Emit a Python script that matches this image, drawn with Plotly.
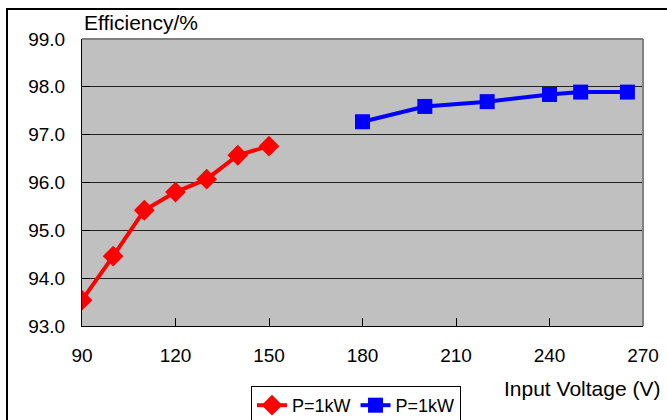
import plotly.graph_objects as go

# Input voltage (V) and efficiency (%) for the two operating ranges
low_voltage = [90, 100, 110, 120, 130, 140, 150]
low_efficiency = [93.54, 94.46, 95.42, 95.80, 96.07, 96.57, 96.76]

high_voltage = [180, 200, 220, 240, 250, 265]
high_efficiency = [97.27, 97.59, 97.69, 97.84, 97.89, 97.89]

series_names = ["P=1kW", "P=1kW"]
x_ticks = [90, 120, 150, 180, 210, 240, 270]
y_ticks = [93, 94, 95, 96, 97, 98, 99]

W, H = 667, 420
ML, MR, MT, MB = 82, 24, 39, 94
PW, PH = W - ML - MR, H - MT - MB

def px_x(p):
    return (p - ML) / PW

def px_y(p):
    return (H - MB - p) / PH

font = "Liberation Sans, Arial, sans-serif"

fig = go.Figure()
fig.add_trace(go.Scatter(
    x=low_voltage, y=low_efficiency, name=series_names[0],
    mode="lines+markers",
    line=dict(color="#ff0000", width=4),
    marker=dict(symbol="diamond", size=16, color="#ff0000"),
))
fig.add_trace(go.Scatter(
    x=high_voltage, y=high_efficiency, name=series_names[1],
    mode="lines+markers",
    line=dict(color="#0000ff", width=4),
    marker=dict(symbol="square", size=15, color="#0000ff"),
))

fig.update_layout(
    width=W, height=H,
    margin=dict(l=ML, r=MR, t=MT, b=MB, autoexpand=False),
    paper_bgcolor="white",
    plot_bgcolor="#c0c0c0",
    font=dict(family=font, size=19, color="black"),
    showlegend=True,
    legend=dict(
        orientation="h",
        x=px_x(251), y=px_y(386), xanchor="left", yanchor="top",
        bordercolor="black", borderwidth=1, bgcolor="white",
        font=dict(size=18),
        itemwidth=30, tracegroupgap=0,
    ),
    xaxis=dict(
        range=[90, 270], tickvals=x_ticks,
        ticks="inside", ticklen=8, tickcolor="black",
        showgrid=False, zeroline=False,
        showline=True, linecolor="black", linewidth=1,
        ticklabelstandoff=12,
    ),
    yaxis=dict(
        range=[93, 99], tickvals=y_ticks, tickformat=".1f",
        ticks="inside", ticklen=8, tickcolor="black",
        showgrid=True, gridcolor="#222222", gridwidth=1,
        zeroline=False,
        showline=True, linecolor="black", linewidth=1,
        ticklabelstandoff=12,
    ),
    shapes=[
        # grey frame on the top and right of the plotting area
        dict(type="line", xref="paper", yref="paper", x0=0, x1=1, y0=1, y1=1,
             line=dict(color="#808080", width=2)),
        dict(type="line", xref="paper", yref="paper", x0=1, x1=1, y0=0, y1=1,
             line=dict(color="#808080", width=2)),
        # outer chart border
        dict(type="rect", xref="paper", yref="paper",
             x0=px_x(7), x1=px_x(700), y0=px_y(9), y1=px_y(460),
             line=dict(color="black", width=2), layer="below"),
    ],
    annotations=[
        dict(text="Efficiency/%", xref="paper", yref="paper",
             x=0, y=px_y(22), xanchor="left", yanchor="middle",
             showarrow=False, font=dict(size=21)),
        dict(text="Input Voltage (V)", xref="paper", yref="paper",
             x=px_x(662), y=px_y(388), xanchor="right", yanchor="middle",
             showarrow=False, font=dict(size=21)),
    ],
)

fig.write_html("out.html")
